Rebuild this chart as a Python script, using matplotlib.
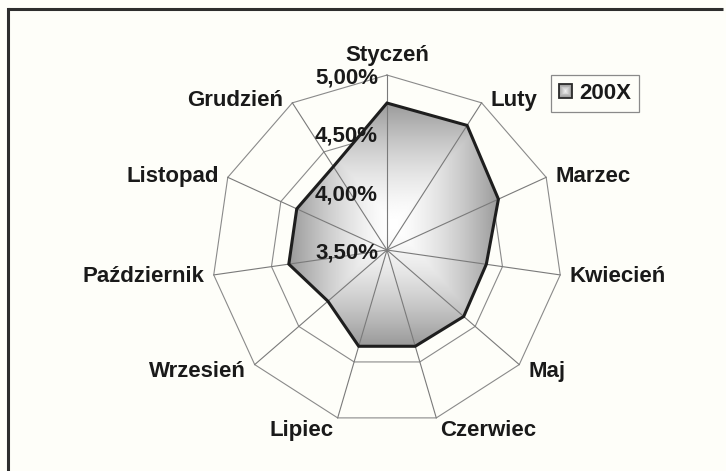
import numpy as np
import matplotlib.pyplot as plt
from matplotlib.patches import Polygon, Patch, Rectangle
from matplotlib.lines import Line2D
from matplotlib.legend_handler import HandlerBase

plt.rcParams['font.family'] = ['Liberation Sans', 'DejaVu Sans']

# data (Sierpień is absent in the original)
months = ['Styczeń', 'Luty', 'Marzec', 'Kwiecień', 'Maj', 'Czerwiec', 'Lipiec',
          'Wrzesień', 'Październik', 'Listopad', 'Grudzień']
values = [4.76, 4.77, 4.55, 4.36, 4.37, 4.36, 4.36, 4.17, 4.35, 4.35, 4.35]
r_ticks = [3.50, 4.00, 4.50, 5.00]
tick_labels = ['3,50%', '4,00%', '4,50%', '5,00%']
series_name = '200X'

bg = '#fefef9'
txt = '#1a1a1a'
fs = 16
px2pt = 72 / 100

r_min, r_max = r_ticks[0], r_ticks[-1]
n = len(months)
theta = np.pi / 2 - 2 * np.pi * np.arange(n) / n


def to_xy(v, th):
    r = (np.asarray(v, dtype=float) - r_min) / (r_max - r_min)
    return r * np.cos(th), r * np.sin(th)


class GradientSquare(HandlerBase):
    # legend key: small square shaded like the series fill
    def create_artists(self, legend, orig, xd, yd, w, h, fontsize, trans):
        arts = []
        steps = 8
        for i in range(steps):
            f = i / steps
            g = 0.60 + 0.38 * f
            arts.append(Rectangle((-xd + w * f / 2, -yd + h * f / 2), w * (1 - f), h * (1 - f),
                                  facecolor=str(g), edgecolor='none', transform=trans))
        arts.append(Rectangle((-xd, -yd), w, h, facecolor='none', edgecolor='#2a2a2a',
                              lw=1.3, transform=trans))
        return arts


fig = plt.figure(figsize=(7.26, 4.71), dpi=100, facecolor=bg)
ax = fig.add_axes([0, 0, 1, 1])
ax.set_facecolor(bg)

# polygon grid rings
for t in r_ticks[1:]:
    gx, gy = to_xy(np.full(n, t), theta)
    ax.plot(np.append(gx, gx[0]), np.append(gy, gy[0]), color='#8a8a8a', lw=0.8, zorder=1)

# gradient filled series polygon
px, py = to_xy(values, theta)
x0, x1, y0, y1 = px.min(), px.max(), py.min(), py.max()
X, Y = np.meshgrid(np.linspace(-1, 1, 500), np.linspace(-1, 1, 500))
shade = 1 - 0.40 * np.maximum(np.abs(X), np.abs(Y)) ** 1.5
im = ax.imshow(shade, cmap='gray', vmin=0, vmax=1, extent=(x0, x1, y0, y1),
               origin='lower', interpolation='bilinear', zorder=2)
poly = Polygon(np.column_stack([px, py]), closed=True, facecolor='none',
               edgecolor='#1e1e1e', lw=2.2, zorder=4, joinstyle='miter')
ax.add_patch(poly)
im.set_clip_path(poly)

# spokes
ox, oy = to_xy(np.full(n, r_max), theta)
for sx, sy in zip(ox, oy):
    ax.plot([0, sx], [0, sy], color='#7a7a7a', lw=0.8, zorder=3)

# category labels
for name, th, sx, sy in zip(months, theta, ox, oy):
    c, s = np.cos(th), np.sin(th)
    if abs(c) < 0.1 and s > 0:
        ha, va, dx, dy = 'center', 'bottom', 0, 9
    elif s < -0.8:
        ha, va = ('left', 'top') if c > 0 else ('right', 'top')
        dx, dy = 4 * np.sign(c), -2
    else:
        ha, va = ('left' if c > 0 else 'right'), 'center'
        dx = 9 * np.sign(c)
        dy = 10 * s if s < 0 else 3 * s
    ax.annotate(name, (sx, sy), xytext=(dx * px2pt, dy * px2pt), textcoords='offset points',
                ha=ha, va=va, fontsize=fs, fontweight='bold', color=txt, zorder=5)

# radial tick labels along the first spoke
for t, lab in zip(r_ticks, tick_labels):
    tx, ty = to_xy(t, np.pi / 2)
    ax.annotate(lab, (tx, ty), xytext=(-9 * px2pt, -3 * px2pt), textcoords='offset points',
                ha='right', va='center', fontsize=fs, fontweight='bold', color=txt, zorder=5)

ax.set_aspect('auto')
ax.set_xlim(-2.211, 1.937)
ax.set_ylim(-1.263, 1.429)
ax.axis('off')

handle = Patch(facecolor='#d4d4d4', edgecolor='#333333', label=series_name)
leg = fig.legend(handles=[handle], loc='upper left', bbox_to_anchor=(551 / 726, 1 - 75 / 471),
                 handler_map={Patch: GradientSquare()},
                 frameon=True, fancybox=False, edgecolor='#8a8a8a', facecolor=bg, framealpha=1,
                 handlelength=0.6, handleheight=0.6, handletextpad=0.3, borderpad=0.35,
                 borderaxespad=0, prop={'weight': 'bold', 'size': fs})
leg.get_frame().set_linewidth(0.9)
for tx in leg.get_texts():
    tx.set_color(txt)

# chart area frame: only the top and left edges fall inside the picture
fx, fy = 8 / 726, 1 - 9 / 471
fig.lines.append(Line2D([fx, fx], [-0.05, fy], transform=fig.transFigure,
                        color='#2e2e2e', lw=2.2, solid_capstyle='projecting'))
fig.lines.append(Line2D([fx, 0.996], [fy, fy], transform=fig.transFigure,
                        color='#2e2e2e', lw=2.2, solid_capstyle='butt'))

fig.savefig('out.png', dpi=100, facecolor=bg)
